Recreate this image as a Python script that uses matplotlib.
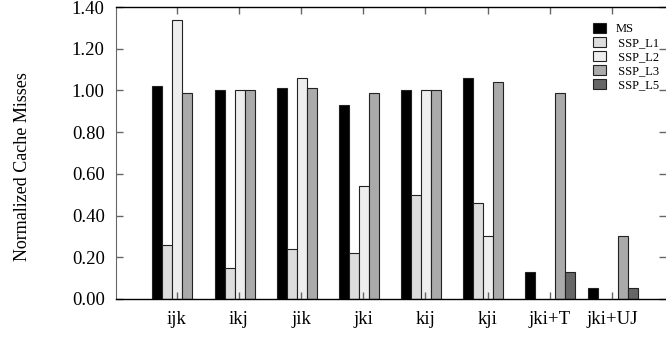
import numpy as np
import matplotlib.pyplot as plt

plt.rcParams['font.family'] = ['Liberation Serif', 'DejaVu Serif']

# data
loops = ['ijk', 'ikj', 'jik', 'jki', 'kij', 'kji', 'jki+T', 'jki+UJ']
ms     = [1.02, 1.00, 1.01, 0.93, 1.00, 1.06, 0.13, 0.05]
ssp_l1 = [0.26, 0.15, 0.24, 0.22, 0.50, 0.46, 0.00, 0.00]
ssp_l2 = [1.34, 1.00, 1.06, 0.54, 1.00, 0.30, 0.00, 0.00]
ssp_l3 = [0.99, 1.00, 1.01, 0.99, 1.00, 1.04, 0.99, 0.30]
ssp_l5 = [0.00, 0.00, 0.00, 0.00, 0.00, 0.00, 0.13, 0.05]

series = [ms, ssp_l1, ssp_l2, ssp_l3, ssp_l5]
names = ['MS', ' SSP_L1', ' SSP_L2', ' SSP_L3', ' SSP_L5']
colors = ['#000000', '#dddddd', '#eeeeee', '#aaaaaa', '#666666']

fig = plt.figure(figsize=(6.66, 3.37), dpi=100)
ax = fig.add_axes([0.174, 0.113, 0.826, 0.866])

x = np.arange(len(loops))
w = 0.161
for i, (vals, nm, c) in enumerate(zip(series, names, colors)):
    v = np.array(vals)
    # zero bars are not drawn
    mask = v > 0
    ax.bar(x[mask] + (i - 2) * w + 0.01, v[mask], width=w, color=c,
           edgecolor='#222222', linewidth=0.8, label=nm)

ax.set_xlim(-0.98, 7.87)
ax.set_ylim(0, 1.40)
ax.set_xticks(x)
ax.set_xticklabels(loops, fontsize=13.5)
ax.set_yticks(np.arange(0, 1.41, 0.2))
ax.set_yticklabels(['%.2f' % t for t in np.arange(0, 1.41, 0.2)], fontsize=13.5)
ax.set_ylabel('Normalized Cache Misses', fontsize=13)
ax.yaxis.set_label_coords(-0.155, 0.455)

ax.tick_params(axis='both', direction='in', top=True, right=True,
               length=5, width=1, color='#666666')
ax.tick_params(axis='x', pad=9)
ax.tick_params(axis='y', pad=8)
ax.spines['right'].set_visible(False)
ax.spines['left'].set_color('#666666')
ax.spines['top'].set_linewidth(1)
ax.spines['bottom'].set_linewidth(1)

ax.legend(loc='upper right', bbox_to_anchor=(0.997, 0.962), frameon=False,
          fontsize=9, handlelength=1.1, handleheight=0.8, labelspacing=0.15,
          handletextpad=0.7, borderaxespad=0)

fig.savefig('out.png', dpi=100)
